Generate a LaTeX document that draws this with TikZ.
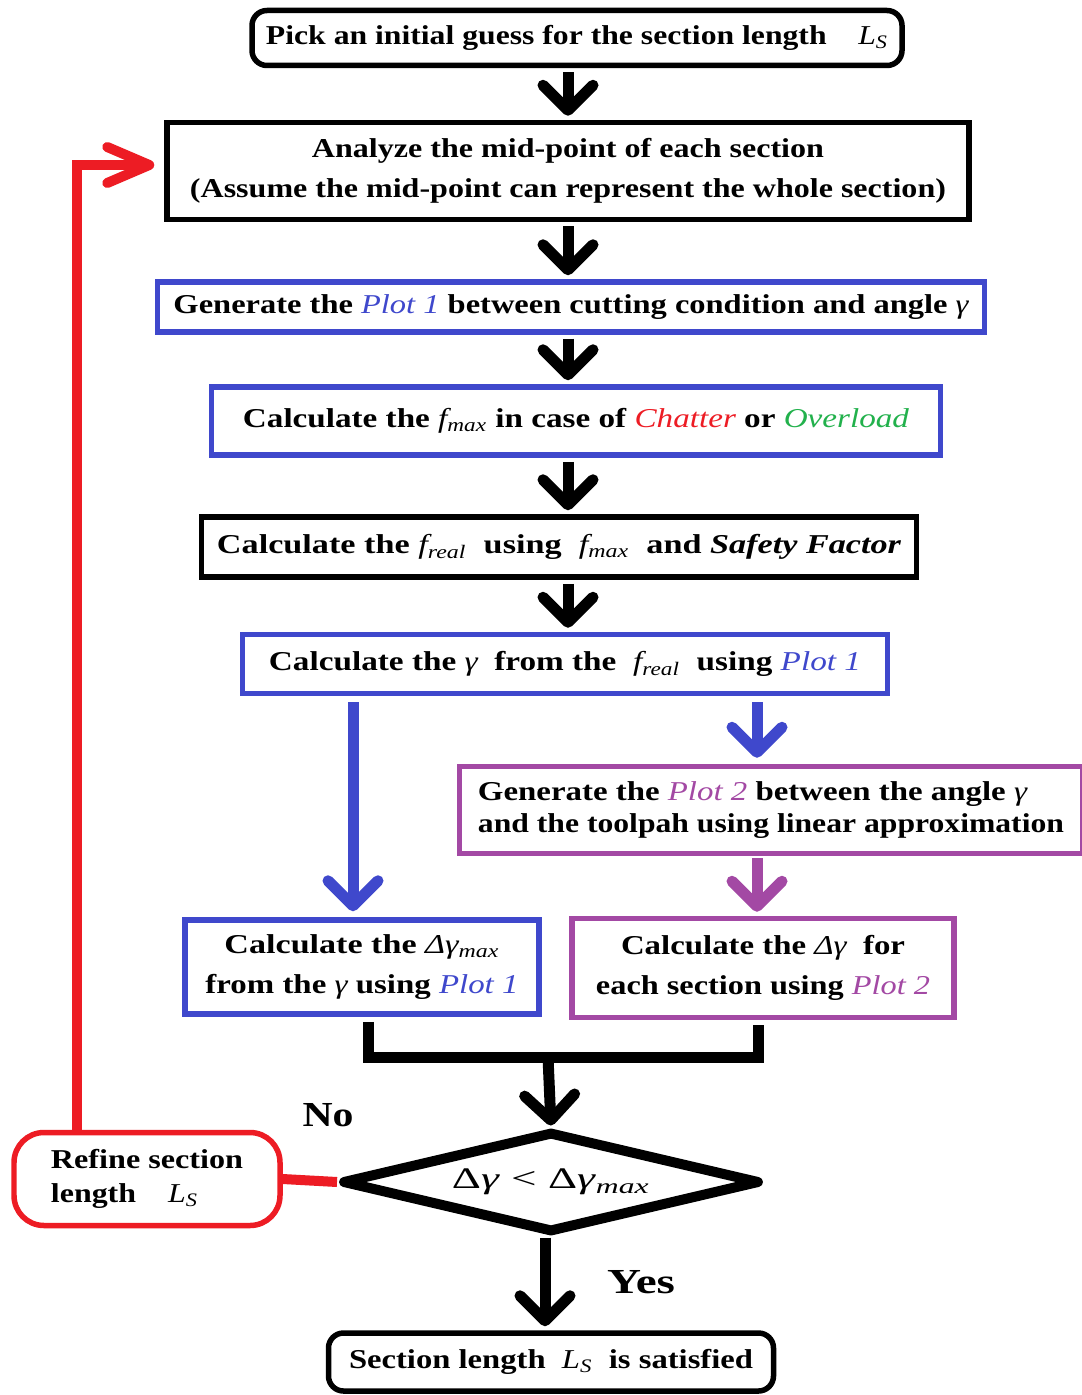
\documentclass[tikz,border=0pt]{standalone}
\usepackage{fontspec}
\setmainfont{Liberation Serif}
\usepackage{graphicx}
\usetikzlibrary{shapes.geometric,arrows.meta}

\definecolor{flowblue}{RGB}{63,72,204}
\definecolor{flowpurple}{RGB}{163,73,164}
\definecolor{flowred}{RGB}{237,28,36}
\definecolor{flowgreen}{RGB}{34,177,76}

% one pixel of the drawing
\newlength\px \setlength\px{0.02cm}
% stretch a line of text to a width (in px), height unchanged
\newcommand\fitw[2]{\resizebox{#1\px}{\height}{#2}}
% symbols
\newcommand\Ls{{\mdseries\itshape L\textsubscript{S}}}
\newcommand\fmax{{\mdseries\itshape f\textsubscript{max}}}
\newcommand\freal{{\mdseries\itshape f\textsubscript{real}}}
\newcommand\gam{{\mdseries\itshape γ}}
\newcommand\dg{{\mdseries\itshape Δγ}}
\newcommand\dgmax{{\mdseries\itshape Δγ\textsubscript{max}}}
\newcommand\plot[2]{{\color{#1}\mdseries\itshape Plot #2}}

\tikzset{
	box/.style={draw, line width=0.11cm, inner sep=0pt, align=center,
		font=\fontsize{15.5}{23}\selectfont\bfseries},
	wh/.style 2 args={minimum width=#1*\px, minimum height=#2*\px},
	decision/.style={diamond, draw, line width=0.2cm, line join=round, inner sep=0pt, aspect=3.86,
		font=\fontsize{17}{17}\selectfont},
	flow/.style={line width=0.22cm, -{Straight Barb[length=0.5cm,width=1.0cm,round]}},
	back/.style={flowred, line width=0.2cm},
	answer/.style={font=\fontsize{20}{20}\selectfont\bfseries}
}

\begin{document}
\begin{tikzpicture}[x=0.02cm,y=-0.02cm]
	% Cadre de la page
	\fill[white] (0,0) rectangle (1081,1395);
	\useasboundingbox (0,0) rectangle (1081,1395);
%
% Blocs du calcul
	\node[box, wh={650}{55}, rounded corners=0.3cm] (start) at (577,38)
		{\fitw{622}{Pick an initial guess for the section length\quad\Ls}};
	\node[box, wh={802}{97}] (analyze) at (568,171)
		{\fitw{512}{Analyze the mid-point of each section}\\
		 \fitw{756}{(Assume the mid-point can represent the whole section)}};
	\node[box, draw=flowblue, wh={827}{50}] (plotone) at (571,307)
		{\fitw{795}{Generate the \plot{flowblue}{1} between cutting condition and angle \gam}};
	\node[box, draw=flowblue, wh={729}{68}] (fmax) at (576,421)
		{\fitw{666}{Calculate the \fmax{} in case of {\color{flowred}\mdseries\itshape Chatter} or {\color{flowgreen}\mdseries\itshape Overload}}};
	\node[box, wh={715}{60}] (freal) at (559,547)
		{\fitw{684}{Calculate the \freal\enspace using\enspace\fmax\enspace and {\itshape Safety Factor}}};
	\node[box, draw=flowblue, wh={645}{59}] (gammabox) at (565,664)
		{\fitw{592}{Calculate the \gam\enspace from the\enspace\freal\enspace using \plot{flowblue}{1}}};
%
% Branche de droite et branche de gauche
	\node[box, draw=flowpurple, wh={623}{87}, align=left,
		font=\fontsize{15.5}{18}\selectfont\bfseries] (plottwo) at (771,810)
		{\fitw{549}{Generate the \plot{flowpurple}{2} between the angle \gam}\\
		 \fitw{586}{and the toolpah using linear approximation}};
	\node[box, draw=flowblue, wh={354}{94}] (dgmax) at (362,967)
		{\fitw{275}{Calculate the \dgmax}\\
		 \fitw{313}{from the \gam{} using \plot{flowblue}{1}}};
	\node[box, draw=flowpurple, wh={382}{99}] (dgam) at (763,968)
		{\fitw{284}{Calculate the \dg\enspace for}\\
		 \fitw{334}{each section using \plot{flowpurple}{2}}};
%
% Test et sorties
	\node[decision, wh={418}{101}] (test) at (551,1182)
		{\fitw{198}{Δ\textit{γ} < Δ\textit{γ}\textsubscript{\textit{max}}}};
	\node[box, draw=flowred, wh={266}{93}, rounded corners=0.6cm, align=left,
		font=\fontsize{15.5}{19}\selectfont\bfseries] (refine) at (147,1179)
		{\fitw{192}{Refine section}\\
		 \fitw{147}{length\quad\Ls}};
	\node[box, wh={445}{58}, rounded corners=0.3cm] (finish) at (551,1362)
		{\fitw{404}{Section length\enspace\Ls\enspace is satisfied}};
	\node[answer] (no) at (328,1115) {\fitw{51}{No}};
	\node[answer] (yes) at (641,1282) {\fitw{68}{Yes}};
%
% Fleches
	\coordinate (spine) at (568,0);
	\foreach \a/\b in {start/analyze,analyze/plotone,plotone/fmax,fmax/freal,freal/gammabox}{
		\draw[flow, shorten <=0.08cm, shorten >=0.08cm] (\a.south -| spine) -- (\b.north -| spine);
	};
	\coordinate (lbranch) at (353,0); \coordinate (rbranch) at (757,0);
	\draw[flow, flowblue, shorten <=0.12cm, shorten >=0.12cm] (gammabox.south -| lbranch) -- (dgmax.north -| lbranch);
	\draw[flow, flowblue, shorten <=0.12cm, shorten >=0.12cm] (gammabox.south -| rbranch) -- (plottwo.north -| rbranch);
	\draw[flow, flowpurple, shorten <=0.04cm, shorten >=0.08cm] (plottwo.south -| rbranch) -- (dgam.north -| rbranch);
	% reunion des deux branches
	\coordinate (lfoot) at (368,1057); \coordinate (rfoot) at (758,1057); \coordinate (join) at (548,1057);
	\draw[line width=0.22cm, shorten <=0.1cm] (dgmax.south -| lfoot) -- (lfoot) -- (rfoot) -- ([yshift=-0.1cm]dgam.south -| rfoot);
	\draw[flow, shorten >=0.02cm] (join) -- (test.north);
	\coordinate (exit) at (545,0);
	\draw[flow, shorten >=0.08cm] (test.south -| exit) -- (finish.north -| exit);
	% boucle de retour
	\coordinate (loop) at (77,165);
	\draw[back] (test.west) -- (refine.east);
	\draw[back, -{Straight Barb[length=0.84cm,width=0.72cm,round]}, shorten >=0.2cm]
		(refine.north -| loop) -- (loop) -- (loop -| analyze.west);

\end{tikzpicture}
\end{document}
